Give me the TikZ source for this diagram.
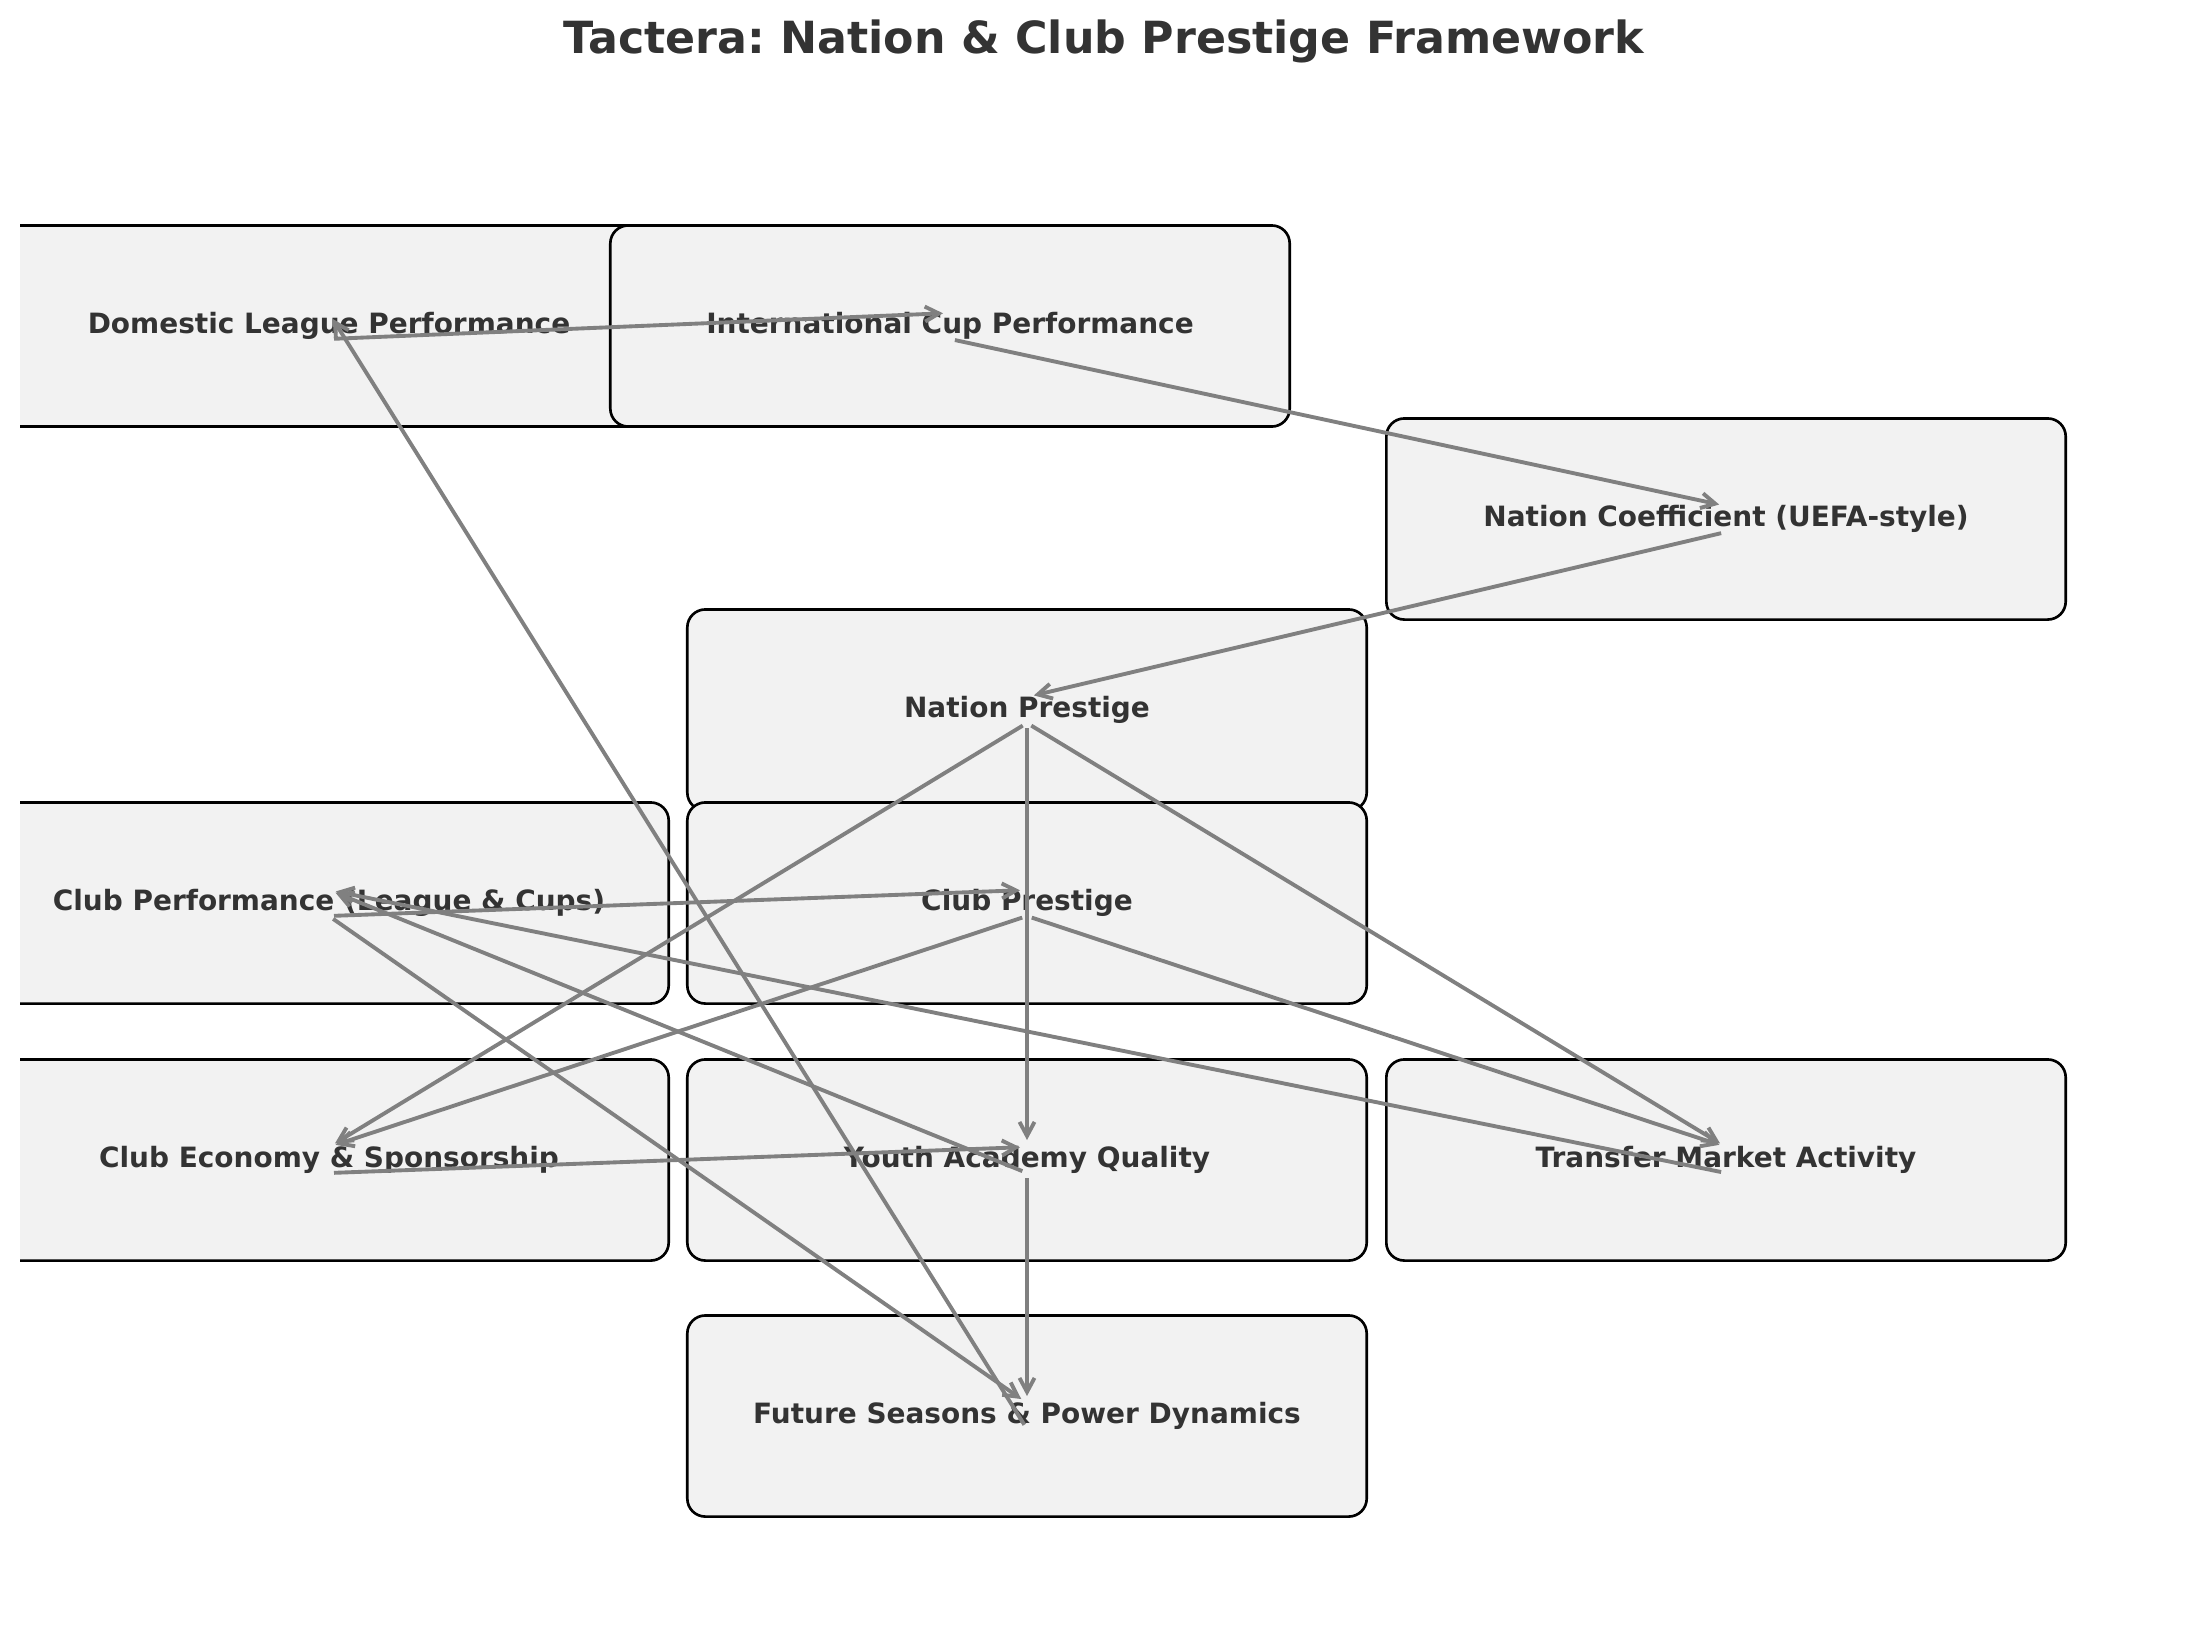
\documentclass[tikz,border=0pt]{standalone}
\usepackage{fontspec}
\setmainfont{DejaVu Sans}
\usetikzlibrary{arrows.meta, positioning, calc}
\definecolor{BoxGray}{HTML}{F2F2F2}
\definecolor{InkGray}{HTML}{333333}
\definecolor{LinkGray}{HTML}{808080}
\frenchspacing

\begin{document}
\begin{tikzpicture}[
    x=0.01cm, y=-0.01cm,
    font=\bfseries,
    block/.style={draw=black, line width=0.75pt, rounded corners=1.8mm, fill=BoxGray, text=InkGray,
        align=center, font=\bfseries\fontsize{7.95}{10}\selectfont, minimum width=6.79cm, minimum height=2.01cm, inner sep=0pt},
    link/.style={-{Straight Barb[length=1.4mm, width=1.5mm]}, line width=1.1pt, LinkGray,
        shorten <=0.5mm, shorten >=0.7mm},
]
\useasboundingbox (0,0) rectangle (2210,1630);

% --- title ---
\node[font=\bfseries\fontsize{12.6}{15}\selectfont, text=InkGray, anchor=base] (title) at (1104,54)
    {Tactera: Nation \& Club Prestige Framework};

% ================= BOXES (clipped at the left edge) =================
\begin{scope}
\clip (20,0) rectangle (2210,1630);
\node[block] (dom) at (329,326) {Domestic League Performance};
\node[block] (intl) at (950,326) {International Cup Performance};
\node[block] (coef) at (1726,519) {Nation Coefficient (UEFA-style)};
\node[block] (natp) at (1027,710) {Nation Prestige};
\node[block] (perf) at (329,903) {Club Performance (League \& Cups)};
\node[block] (clubp) at (1027,903) {Club Prestige};
\node[block] (econ) at (329,1160) {Club Economy \& Sponsorship};
\node[block] (youth) at (1027,1160) {Youth Academy Quality};
\node[block] (transfer) at (1726,1160) {Transfer Market Activity};
\node[block] (future) at (1027,1416) {Future Seasons \& Power Dynamics};
\end{scope}

% ================= NATION CHAIN =================
\draw[link] ($(dom)+(0,13)$) -- ($(intl)+(0,-13)$);
\draw[link] ($(intl)+(0,13)$) -- ($(coef)+(0,-13)$);
\draw[link] ($(coef)+(0,13)$) -- ($(natp)+(0,-13)$);

% ================= NATION PRESTIGE =================
\draw[link] ($(natp)+(0,13)$) -- ($(econ)+(0,-13)$);
\draw[link] ($(natp)+(0,13)$) -- ($(youth)+(0,-13)$);
\draw[link] ($(natp)+(0,13)$) -- ($(transfer)+(0,-13)$);

% ================= CLUB LEVEL =================
\draw[link] ($(perf)+(0,13)$) -- ($(clubp)+(0,-13)$);
\draw[link] ($(clubp)+(0,13)$) -- ($(econ)+(0,-13)$);
\draw[link] ($(clubp)+(0,13)$) -- ($(transfer)+(0,-13)$);
\draw[link] ($(econ)+(0,13)$) -- ($(youth)+(0,-13)$);
\draw[link] ($(youth)+(0,13)$) -- ($(perf)+(0,-13)$);
\draw[link] ($(transfer)+(0,13)$) -- ($(perf)+(0,-13)$);

% ================= FUTURE =================
\draw[link] ($(perf)+(0,13)$) -- ($(future)+(0,-13)$);
\draw[link] ($(youth)+(0,13)$) -- ($(future)+(0,-13)$);
\draw[link] ($(future)+(0,13)$) -- ($(dom)+(0,-13)$);

\end{tikzpicture}
\end{document}
